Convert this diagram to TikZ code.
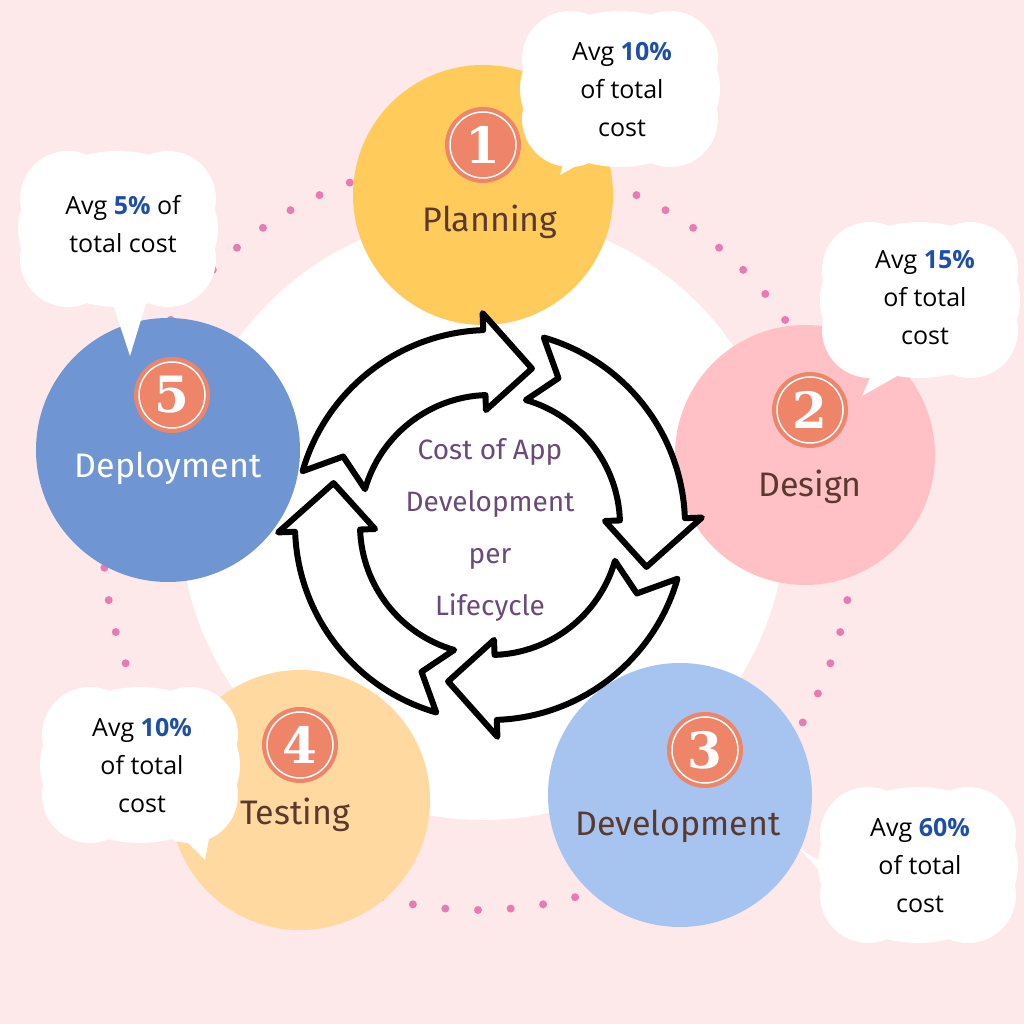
\documentclass[tikz,border=0pt]{standalone}
\usepackage{fontspec}
\usetikzlibrary{calc}
\setmainfont{Open Sans}
\newfontfamily\handf{Fira Sans}
\newfontfamily\numf{DejaVu Serif}
\definecolor{bgpink}{HTML}{FDE8EA}
\definecolor{dotpink}{HTML}{E87BB4}
\definecolor{cyel}{HTML}{FFCC5C}
\definecolor{cpink}{HTML}{FFC1C5}
\definecolor{cblue}{HTML}{A7C4F0}
\definecolor{corange}{HTML}{FFD9A0}
\definecolor{cdblue}{HTML}{6F95D3}
\definecolor{badge}{HTML}{EE8468}
\definecolor{brownt}{HTML}{5A3A2E}
\definecolor{purp}{HTML}{6B4A7A}
\definecolor{pctblue}{HTML}{1E4FA8}
\tikzset{
  stage/.style={circle,minimum size=#1,inner sep=0},
  lbl/.style={font=\handf\fontsize{34}{38}\selectfont,text=brownt},
  bubtxt/.style={font=\fontsize{25}{38}\selectfont,align=center,text=black},
  arrowseg/.style={fill=white,draw=black,line width=6pt,line join=round}
}
\newcommand\pct[1]{\textcolor{pctblue}{\bfseries #1}}
\newcommand\badgeat[3]{%
  \fill[badge] (#1,#2) circle (38);
  \draw[white,line width=1.5pt] (#1,#2) circle (33);
  \node[font=\numf\bfseries\fontsize{50}{50}\selectfont,text=white] (n#3) at (#1,#2) {#3};}
\newcommand\cloudb[7]{%
  \fill[white] (#1,#2) ellipse (100 and 78);
  \fill[white] (#1-50,#2+30) circle (48);
  \fill[white] (#1+50,#2+30) circle (48);
  \fill[white] (#1-50,#2-30) circle (48);
  \fill[white] (#1+50,#2-30) circle (48);
  \fill[white] (#1+#5,#2+#6) -- (#3,#4) -- (#1+#5+#7,#2+#6-#7*0.2) -- cycle;}
\begin{document}
\begin{tikzpicture}[x=1pt,y=1pt]
\useasboundingbox (0,0) rectangle (1024,1024);
\fill[bgpink] (0,0) rectangle (1024,1024);
\fill[white] (483,507) circle (303);
\foreach \a in {0,5,...,355} \fill[dotpink] (478,489)+(\a:375) circle (4);
\node[stage=260,fill=cyel] (c1) at (483,829) {};
\node[stage=260,fill=cpink] (c2) at (805,569) {};
\node[stage=264,fill=cblue] (c3) at (680,229) {};
\node[stage=260,fill=corange] (c4) at (300,224) {};
\node[stage=264,fill=cdblue] (c5) at (168,574) {};
\badgeat{483}{879}{1}
\badgeat{810}{614}{2}
\badgeat{705}{274}{3}
\badgeat{300}{279}{4}
\badgeat{172}{629}{5}
\node[lbl] (l1) at (490,802) {Planning};
\node[lbl] (l2) at (810,537) {Design};
\node[lbl] (l3) at (678,198) {Development};
\node[lbl] (l4) at (295,209) {Testing};
\node[lbl,text=white] (l5) at (168,556) {Deployment};
\fill[white] (490,499) circle (195);
\foreach \e in {75,-15,-105,165}{
  \pgfmathsetmacro\s{\e+89}
  \pgfmathsetmacro\b{\e+17}
  \pgfmathsetmacro\n{\s-9}
  \draw[arrowseg] ($(490,499)+(\s:130)$) arc (\s:\b:130)
     -- ($(490,499)+(\b:115)$) -- ($(490,499)+(\e:162)$) -- ($(490,499)+(\b:212)$)
     -- ($(490,499)+(\b:195)$) arc (\b:\s:195) -- ($(490,499)+(\n:162)$) -- cycle;
}
\node[font=\handf\fontsize{28}{52}\selectfont,text=purp,align=center] (ctr) at (490,494)
  {Cost of App\\Development\\per\\Lifecycle};
\cloudb{620}{935}{560}{849}{-50}{-50}{40}
\node[bubtxt] (b1) at (622,934) {Avg \pct{10\%}\\of total\\cost};
\cloudb{920}{724}{862}{628}{-40}{-55}{40}
\node[bubtxt] (b2) at (925,726) {Avg \pct{15\%}\\of total\\cost};
\cloudb{918}{159}{800}{175}{-95}{-10}{30}
\node[bubtxt] (b3) at (920,158) {Avg \pct{60\%}\\of total\\cost};
\cloudb{140}{259}{205}{164}{30}{-60}{40}
\node[bubtxt] (b4) at (142,258) {Avg \pct{10\%}\\of total\\cost};
\cloudb{118}{795}{130}{668}{-10}{-60}{40}
\node[bubtxt] (b5) at (123,800) {Avg \pct{5\%} of\\total cost};
\end{tikzpicture}
\end{document}
